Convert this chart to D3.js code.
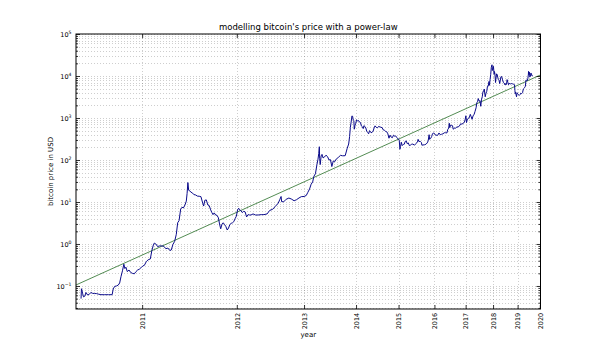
<!DOCTYPE html>
<html>
<head>
<meta charset="utf-8">
<script src="https://cdn.jsdelivr.net/npm/d3@7"></script>
<style>
  body { margin: 0; background: #fff; }
  text { font-family: "DejaVu Sans", sans-serif; fill: #000; }
</style>
</head>
<body>
<div id="chart"></div>
<script>
// daily closing prices, thinned out: [month-day, USD]
var btc2010 = [["07-17",0.050],["07-18",0.086],["07-19",0.080],["07-21",0.065],["07-23",0.055],["07-26",0.057],
  ["07-29",0.070],["08-02",0.061],["08-06",0.063],["08-10",0.070],["08-14",0.067],["08-19",0.066],["08-24",0.066],
  ["08-29",0.064],["09-05",0.062],["09-15",0.062],["09-25",0.062],["10-05",0.062],["10-08",0.085],["10-12",0.098],
  ["10-17",0.100],["10-22",0.105],["10-26",0.118],["10-30",0.170],["11-03",0.230],["11-07",0.330],["11-10",0.260],
  ["11-13",0.280],["11-17",0.220],["11-22",0.240],["11-27",0.210],["12-02",0.200],["12-08",0.195],["12-13",0.220],
  ["12-18",0.240],["12-23",0.250],["12-28",0.270]];
var btc2011 = [["01-03",0.30],["01-08",0.31],["01-14",0.38],["01-20",0.42],["01-27",0.44],["02-01",0.70],["02-06",0.95],
  ["02-09",1.05],["02-14",1.00],["02-20",0.87],["02-27",0.90],["03-06",0.90],["03-13",0.88],["03-20",0.77],["03-27",0.80],
  ["04-03",0.70],["04-08",0.72],["04-14",0.98],["04-20",1.15],["04-26",1.70],["05-01",3.2],["05-06",3.6],["05-12",6.8],
  ["05-17",7.5],["05-22",7.2],["05-28",8.5],["06-02",10.5],["06-05",16],["06-08",29],["06-11",19],["06-15",18.5],
  ["06-19",17.2],["06-25",16.5],["07-01",15],["07-08",14.7],["07-15",13.8],["07-22",13.7],["07-29",13.4],["08-04",10],
  ["08-09",8],["08-14",11],["08-20",11.2],["08-26",8.5],["09-01",8.2],["09-07",6.5],["09-12",5.6],["09-17",5.0],
  ["09-22",5.5],["09-28",4.9],["10-04",4.8],["10-10",4.2],["10-15",3.0],["10-20",2.3],["10-26",3.0],["10-31",3.2],
  ["11-06",2.9],["11-12",2.6],["11-18",2.15],["11-24",2.4],["11-30",2.9],["12-06",3.1],["12-12",3.2],["12-18",3.4],
  ["12-24",4.0],["12-30",4.6]];
var btc2012 = [["01-05",6.6],["01-10",7.1],["01-14",6.4],["01-20",6.3],["01-27",5.6],["02-03",6.0],["02-10",5.8],
  ["02-17",4.4],["02-24",5.0],["03-02",4.9],["03-10",4.9],["03-20",5.2],["04-01",4.9],["04-15",4.9],["05-01",5.0],
  ["05-15",5.0],["06-01",5.2],["06-15",6.3],["07-01",6.7],["07-15",7.8],["08-01",9.4],["08-10",11.5],["08-17",13.5],
  ["08-20",10.2],["09-01",10.1],["09-15",11.6],["10-01",12.4],["10-15",11.8],["11-01",10.7],["11-15",11.3],
  ["12-01",12.5],["12-15",13.4]];
var btc2013 = [["01-01",13.5],["01-15",14.3],["01-25",17],["02-05",20.4],["02-15",26.5],["02-25",30],["03-05",41],
  ["03-15",47],["03-25",78],["04-01",104],["04-06",142],["04-10",207],["04-12",110],["04-16",78],["04-22",125],
  ["04-28",136],["05-05",112],["05-15",118],["05-25",130],["06-05",120],["06-15",100],["06-25",102],["07-05",70],
  ["07-15",95],["07-25",91],["08-05",105],["08-20",115],["09-05",129],["09-20",126],["10-01",126],["10-10",127],
  ["10-25",190],["11-05",240],["11-12",360],["11-18",600],["11-24",800],["11-30",1120],["12-05",1100],["12-10",900],
  ["12-15",870],["12-18",540],["12-24",670],["12-30",750]];
var btc2014 = [["01-05",900],["01-12",860],["01-20",870],["01-28",800],["02-05",780],["02-12",650],["02-20",620],
  ["02-27",560],["03-05",660],["03-12",630],["03-20",580],["03-28",480],["04-05",450],["04-12",420],["04-20",500],
  ["05-01",450],["05-10",450],["05-20",490],["05-28",580],["06-05",650],["06-15",600],["06-25",580],["07-05",630],
  ["07-15",620],["07-25",600],["08-05",590],["08-15",520],["08-25",510],["09-05",480],["09-15",470],["09-25",420],
  ["10-05",330],["10-15",390],["10-25",350],["11-05",340],["11-15",390],["11-25",370],["12-05",375],["12-15",345],
  ["12-25",320]];
var btc2015 = [["01-01",315],["01-08",290],["01-14",180],["01-20",210],["01-27",265],["02-05",220],["02-15",235],
  ["02-25",238],["03-05",275],["03-15",285],["03-25",245],["04-05",255],["04-15",220],["04-25",225],["05-05",235],
  ["05-20",240],["06-05",225],["06-20",245],["07-05",270],["07-12",310],["07-20",275],["08-01",280],["08-15",260],
  ["08-20",225],["09-01",228],["09-15",230],["10-01",237],["10-15",255],["10-25",285],["11-04",400],["11-10",310],
  ["11-20",325],["12-01",360],["12-10",415],["12-20",440]];
var btc2016 = [["01-01",430],["01-15",385],["01-25",390],["02-05",385],["02-20",440],["03-05",400],["03-20",410],
  ["04-05",420],["04-20",445],["05-05",445],["05-20",440],["05-30",530],["06-10",575],["06-17",750],["06-23",590],
  ["07-01",675],["07-15",665],["07-25",655],["08-02",540],["08-15",570],["09-01",575],["09-15",610],["10-01",615],
  ["10-15",640],["11-01",730],["11-15",710],["12-01",750],["12-15",780],["12-25",900]];
var btc2017 = [["01-04",1130],["01-12",780],["01-20",900],["02-01",980],["02-15",1010],["03-01",1220],["03-10",1100],
  ["03-24",930],["04-05",1120],["04-20",1230],["05-01",1430],["05-15",1750],["05-25",2300],["06-05",2500],
  ["06-12",2900],["06-25",2500],["07-05",2600],["07-16",1900],["07-25",2700],["08-05",3200],["08-15",4300],
  ["08-25",4350],["09-01",4900],["09-14",3200],["09-25",3900],["10-05",4300],["10-15",5700],["10-25",5700],
  ["11-05",7400],["11-12",6000],["11-20",8200],["11-29",11000],["12-07",16000],["12-17",18500],["12-22",13500],
  ["12-28",14500]];
var btc2018 = [["01-06",17000],["01-16",11000],["01-20",12800],["01-27",11300],["02-05",7000],["02-10",8600],
  ["02-20",11200],["03-01",10900],["03-08",9400],["03-18",8200],["03-28",7800],["04-06",6600],["04-15",8000],
  ["04-24",9600],["05-05",9700],["05-15",8400],["05-28",7100],["06-10",6800],["06-24",6100],["07-05",6600],
  ["07-15",6300],["07-24",8200],["08-05",7000],["08-14",6200],["08-25",6700],["09-05",6500],["09-15",6500],
  ["10-01",6600],["10-15",6500],["11-01",6350],["11-14",6200],["11-20",4500],["11-25",3800],["12-01",4100],
  ["12-15",3200],["12-24",4000]];
var btc2019 = [["01-01",3800],["01-15",3600],["01-28",3450],["02-08",3600],["02-20",3900],["03-05",3800],
  ["03-20",4000],["04-02",4900],["04-15",5100],["04-25",5400],["05-05",5700],["05-14",8000],["05-25",8000],
  ["06-05",7700],["06-15",8800],["06-22",10700],["06-26",12900],["07-02",10600],["07-10",12300],["07-17",9400],
  ["07-25",9900],["08-05",11800],["08-15",10300],["08-25",10200],["09-05",10500]];

var years = [2010, 2011, 2012, 2013, 2014, 2015, 2016, 2017, 2018, 2019];
var yearTicks = [2011, 2012, 2013, 2014, 2015, 2016, 2017, 2018, 2019, 2020];

// price = 10^fitLogCoef * days^fitExponent, days counted from the genesis block
var genesis = "2009-01-03";
var fitLogCoef = -16.79;
var fitExponent = 5.774;

var dayRange = [548, 4027];
var priceRange = [0.0283, 1e5];

var width = 600, height = 343;
var margin = { top: 34, right: 59.5, bottom: 34, left: 76 };

var t0 = new Date(genesis + "T00:00:00Z");
function daysSince(s) {
  return (new Date(s + "T00:00:00Z") - t0) / 864e5;
}

var series = [];
[btc2010, btc2011, btc2012, btc2013, btc2014, btc2015, btc2016, btc2017, btc2018, btc2019].forEach(function (arr, i) {
  arr.forEach(function (d) {
    series.push({ days: daysSince(years[i] + "-" + d[0]), price: d[1] });
  });
});

var svg = d3.select("#chart").append("svg")
  .attr("width", width)
  .attr("height", height);

var x = d3.scaleLog().domain(dayRange).range([margin.left, width - margin.right]);
var y = d3.scaleLog().domain(priceRange).range([height - margin.bottom, margin.top]);

var x0 = margin.left, x1 = width - margin.right, y0 = height - margin.bottom, y1 = margin.top;

// tick positions
var yMajor = d3.range(-1, 6).map(function (e) { return Math.pow(10, e); });
var yMinor = [];
d3.range(-2, 5).forEach(function (e) {
  d3.range(2, 10).forEach(function (k) {
    var v = k * Math.pow(10, e);
    if (v >= priceRange[0] && v <= priceRange[1]) yMinor.push(v);
  });
});
var xMajor = yearTicks.map(function (yr) { return daysSince(yr + "-01-01"); });

// dotted grid
var grid = svg.append("g").attr("class", "grid")
  .attr("stroke", "#000").attr("stroke-opacity", 0.32)
  .attr("stroke-width", 0.6).attr("stroke-dasharray", "1,2");
grid.selectAll(".hy").data(yMajor.concat(yMinor)).enter().append("line")
  .attr("x1", x0).attr("x2", x1)
  .attr("y1", function (d) { return Math.round(y(d)) + 0.5; })
  .attr("y2", function (d) { return Math.round(y(d)) + 0.5; });
grid.selectAll(".vx").data(xMajor).enter().append("line")
  .attr("y1", y0).attr("y2", y1)
  .attr("x1", function (d) { return Math.round(x(d)) + 0.5; })
  .attr("x2", function (d) { return Math.round(x(d)) + 0.5; });

svg.append("clipPath").attr("id", "plot-clip")
  .append("rect").attr("x", x0).attr("y", y1).attr("width", x1 - x0).attr("height", y0 - y1);

// power-law fit
var fit = function (days) { return Math.pow(10, fitLogCoef) * Math.pow(days, fitExponent); };
svg.append("line")
  .attr("clip-path", "url(#plot-clip)")
  .attr("x1", x(dayRange[0])).attr("y1", y(fit(dayRange[0])))
  .attr("x2", x(dayRange[1])).attr("y2", y(fit(dayRange[1])))
  .attr("stroke", "#3f7f3f").attr("stroke-width", 0.9);

// price
var line = d3.line()
  .x(function (d) { return x(d.days); })
  .y(function (d) { return y(d.price); });
svg.append("path")
  .datum(series)
  .attr("clip-path", "url(#plot-clip)")
  .attr("d", line)
  .attr("fill", "none")
  .attr("stroke", "#0a0a8a")
  .attr("stroke-width", 1)
  .attr("stroke-linejoin", "round");

// axes, ticks pointing inward
var yLeft = svg.append("g").attr("transform", "translate(" + x0 + ",0)")
  .call(d3.axisLeft(y).tickValues(yMajor).tickSize(-4).tickPadding(5).tickFormat(""));
yLeft.selectAll(".tick text").remove();
yLeft.selectAll(".tick").append("text")
  .attr("x", -4.5).attr("dy", "0.32em")
  .attr("text-anchor", "end")
  .style("font-size", "6.5px")
  .each(function (d) {
    var e = Math.round(Math.log10(d));
    var t = d3.select(this);
    t.append("tspan").text("10");
    t.append("tspan").attr("dy", "-0.55em").style("font-size", "4.6px").text(e < 0 ? "\u22121" : e);
  });
svg.append("g").attr("transform", "translate(" + x0 + ",0)")
  .call(d3.axisLeft(y).tickValues(yMinor).tickSize(-2).tickFormat(""));
svg.append("g").attr("transform", "translate(" + x1 + ",0)")
  .call(d3.axisRight(y).tickValues(yMajor).tickSize(-4).tickFormat(""));
svg.append("g").attr("transform", "translate(" + x1 + ",0)")
  .call(d3.axisRight(y).tickValues(yMinor).tickSize(-2).tickFormat(""));

var xBottom = svg.append("g").attr("transform", "translate(0," + y0 + ")")
  .call(d3.axisBottom(x).tickValues(xMajor).tickSize(-4)
    .tickFormat(function (d, i) { return yearTicks[i]; }));
xBottom.selectAll(".tick text")
  .attr("transform", "rotate(-90)")
  .attr("x", -3.8).attr("y", 0).attr("dy", "0.35em")
  .attr("text-anchor", "end")
  .style("font-size", "6.5px");
svg.append("g").attr("transform", "translate(0," + y1 + ")")
  .call(d3.axisTop(x).tickValues(xMajor).tickSize(-4).tickFormat(""));

svg.selectAll(".domain").remove();
svg.selectAll(".tick line").attr("stroke", "#000").attr("stroke-width", 0.8);
svg.selectAll(".tick text").attr("fill", "#000").attr("font-family", null);

svg.append("rect")
  .attr("x", x0).attr("y", y1).attr("width", x1 - x0).attr("height", y0 - y1)
  .attr("fill", "none").attr("stroke", "#000").attr("stroke-width", 1);

// labels
svg.append("text")
  .attr("x", (x0 + x1) / 2).attr("y", 30.3)
  .attr("text-anchor", "middle")
  .style("font-size", "8.5px")
  .text("modelling bitcoin's price with a power-law");
svg.append("text")
  .attr("x", (x0 + x1) / 2).attr("y", 337.3)
  .attr("text-anchor", "middle")
  .style("font-size", "7px")
  .text("year");
svg.append("text")
  .attr("transform", "translate(53," + ((y0 + y1) / 2) + ") rotate(-90)")
  .attr("text-anchor", "middle")
  .style("font-size", "7px")
  .text("bitcoin price in USD");
</script>
</body>
</html>
